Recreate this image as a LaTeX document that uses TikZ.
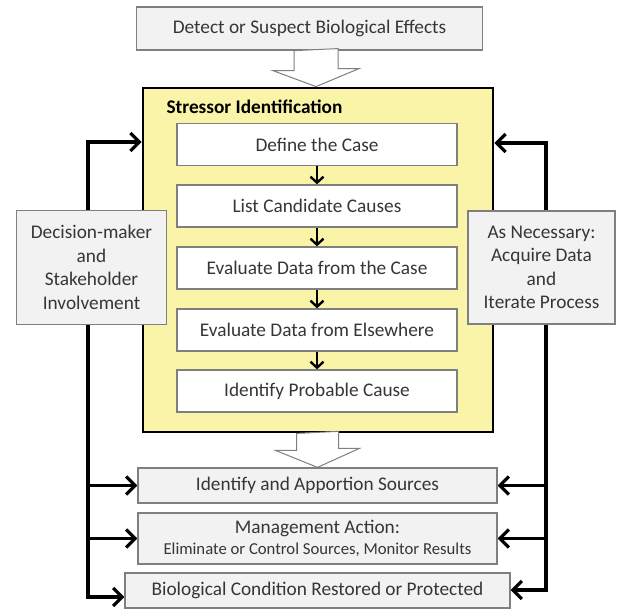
\documentclass[tikz,border=0pt]{standalone}
\usepackage{fontspec}
\setmainfont{Carlito}
\usetikzlibrary{arrows.meta,calc,backgrounds}
\definecolor{boxgray}{HTML}{F2F2F2}
\definecolor{edgegray}{HTML}{7F7F7F}
\definecolor{siyellow}{HTML}{FAF4A8}
\definecolor{textgray}{HTML}{363636}

\begin{document}
\begin{tikzpicture}[x=1pt,y=-1pt,
  graybox/.style={draw=edgegray,line width=1.3pt,fill=boxgray,text=textgray,align=center,inner sep=0pt,font=\fontsize{19.3}{23.5}\selectfont},
  stepbox/.style={draw=edgegray,line width=1.3pt,fill=white,text=textgray,minimum width=280pt,minimum height=42pt,inner sep=0pt,font=\fontsize{19.3}{22}\selectfont},
  arr/.style={line width=3.2pt,-{Straight Barb[length=9pt,width=18pt,line width=3.2pt]}},
  arrs/.style={line width=3.2pt,line join=miter,{Straight Barb[length=9pt,width=18pt,line width=3.2pt]}-{Straight Barb[length=9pt,width=18pt,line width=3.2pt]}},
  smallarr/.style={line width=2.4pt,-{Straight Barb[length=6pt,width=13pt,line width=2.4pt]}},
  hollow/.style={draw=edgegray,line width=1pt,fill=white}]
\useasboundingbox (0,0) rectangle (617,609);

% top box and the Stressor Identification frame
\node[graybox,minimum width=346pt,minimum height=43pt] (detect) at (309.5,28.5) {Detect or Suspect Biological Effects};
\node[draw=black,line width=2.8pt,fill=siyellow,minimum width=350pt,minimum height=344pt,inner sep=0pt] (stressor) at (318,260) {};
\node[anchor=west,text=black,font=\fontsize{19.3}{22}\selectfont\bfseries] (sititle) at (163,107) {Stressor Identification};

% the five steps
\node[stepbox] (define) at (317,144.5) {Define the Case};
\node[stepbox] (candidates) at (317,206) {List Candidate Causes};
\node[stepbox] (evalcase) at (317,268) {Evaluate Data from the Case};
\node[stepbox] (evalelse) at (317,330) {Evaluate Data from Elsewhere};
\node[stepbox] (probable) at (317,391) {Identify Probable Cause};
\draw[smallarr] (define) -- (candidates);
\draw[smallarr] (candidates) -- (evalcase);
\draw[smallarr] (evalcase) -- (evalelse);
\draw[smallarr] (evalelse) -- (probable);

% side boxes
\node[graybox,minimum width=150pt,minimum height=114pt] (decision) at (91.5,267.5) {Decision-maker\\and\\Stakeholder\\Involvement};
\node[graybox,minimum width=147pt,minimum height=113pt] (acquire) at (541.5,267.5) {As Necessary:\\Acquire Data\\and\\Iterate Process};

% bottom boxes
\node[graybox,minimum width=359pt,minimum height=35pt] (sources) at (317.5,485.5) {Identify and Apportion Sources};
\node[graybox,minimum width=359pt,minimum height=51pt] (manage) at (317.5,538.5) {Management Action:\\[-3pt]{\fontsize{16.7}{19}\selectfont Eliminate or Control Sources, Monitor Results}};
\node[graybox,minimum width=385pt,minimum height=35pt] (restored) at (317.5,590.5) {Biological Condition Restored or Protected};

% hollow block arrows
\coordinate (toptip) at ($(stressor.north)+(-2,0)$);
\coordinate (bottip) at (sources.north);
\draw[hollow] (toptip |- detect.south) ++(-22,0) -- ++(0,20) -- ++(-21,0) -- (toptip) -- ++(43,-18) -- ++(-21,0) -- ++(0,-20) -- cycle;
\draw[hollow] (bottip |- stressor.south) ++(-21,0) -- ++(0,17) -- ++(-21,0) -- (bottip) -- ++(42,-19) -- ++(-21,0) -- ++(0,-17) -- cycle;

% feedback lines
\coordinate (ltop) at (88,142);
\coordinate (lbot) at (88,597);
\coordinate (rtop) at (546,143);
\coordinate (rbot) at (546,590);
\begin{scope}[on background layer]
\draw[arrs] (ltop -| stressor.west) -- (ltop) -- (lbot) -- (lbot -| restored.west);
\draw[arr] (ltop |- sources.west) -- (sources.west);
\draw[arr] (ltop |- manage.west) -- (manage.west);
\draw[arrs] (rtop -| stressor.east) -- (rtop) -- (rbot) -- (rbot -| restored.east);
\draw[arr] (rtop |- sources.east) -- (sources.east);
\draw[arr] (rtop |- manage.east) -- (manage.east);
\end{scope}
\end{tikzpicture}
\end{document}
